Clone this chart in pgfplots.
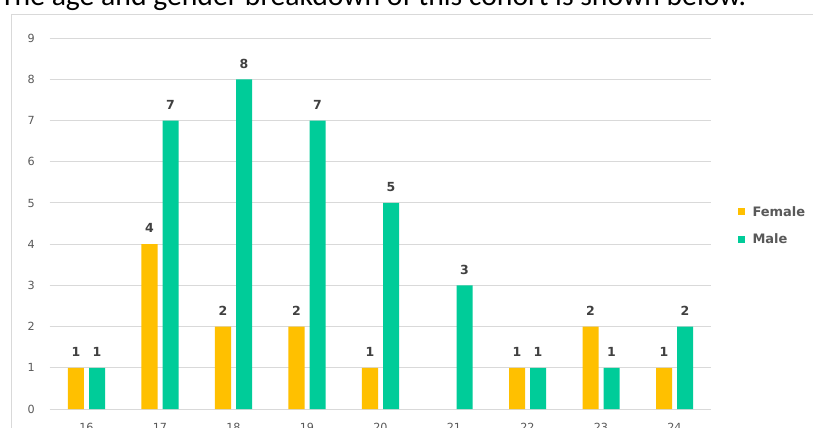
\documentclass[border=0pt]{standalone}
\usepackage{pgfplots}
\pgfplotsset{compat=1.18}
\usepackage{fontspec}
\setmainfont{Carlito}
\newfontfamily\dejavu{DejaVu Sans}
\definecolor{fem}{HTML}{FFC000}
\definecolor{mal}{HTML}{00CC99}
\definecolor{gridc}{HTML}{D9D9D9}
\definecolor{tickc}{HTML}{595959}
\definecolor{labc}{HTML}{404040}
\begin{document}
\begin{tikzpicture}
\path[use as bounding box] (0bp,0bp) rectangle (813bp,428bp);
\clip (0bp,0bp) rectangle (813bp,428bp);
\fill[white] (0bp,0bp) rectangle (813bp,428bp);
\draw[gridc, line width=1bp] (11bp,-20bp) rectangle (840bp,413.5bp);
\node[anchor=base west, inner sep=0pt, font=\fontsize{29.7bp}{32bp}\selectfont] at (0bp,422bp) {The age and gender breakdown of this cohort is shown below.};
\begin{axis}[
  at={(49.75bp,19bp)}, anchor=south west, scale only axis,
  width=661.5bp, height=370.8bp,
  xmin=-0.5, xmax=8.5, ymin=0, ymax=9,
  xtick={0,1,2,3,4,5,6,7,8},
  xticklabels={16,17,18,19,20,21,22,23,24},
  ytick={0,1,2,3,4,5,6,7,8,9},
  ymajorgrids, grid style={gridc, line width=1bp},
  axis line style={draw=none},
  major tick length=0pt,
  tick label style={font=\dejavu\fontsize{11.2bp}{13bp}\selectfont, text=tickc, inner sep=0pt},
  /pgf/number format/assume math mode=true,
  xticklabel style={yshift=-14bp},
  yticklabel style={xshift=-14.75bp},
  ybar=5bp, bar width=16bp,
  nodes near coords,
  every node near coord/.append style={font=\dejavu\bfseries\fontsize{12.5bp}{14bp}\selectfont, text=labc, inner sep=0pt, yshift=11bp},
  legend style={draw=none, fill=none, at={(1.0394,0.553)}, anchor=north west, inner sep=0pt, row sep=12bp,
    font=\dejavu\bfseries\fontsize{13bp}{15bp}\selectfont, text=tickc,
    /tikz/every odd column/.append style={column sep=6bp}},
  legend cell align=left,
  legend image code/.code={\fill[#1] (0bp,-3.5bp) rectangle (7bp,3.5bp);},
  clip=false,
]
\addplot[fill=fem, draw=none] coordinates {(0,1) (1,4) (2,2) (3,2) (4,1) (6,1) (7,2) (8,1)};
\addplot[fill=mal, draw=none] coordinates {(0,1) (1,7) (2,8) (3,7) (4,5) (5,3) (6,1) (7,1) (8,2)};
\legend{Female, Male}
\end{axis}
\end{tikzpicture}
\end{document}
